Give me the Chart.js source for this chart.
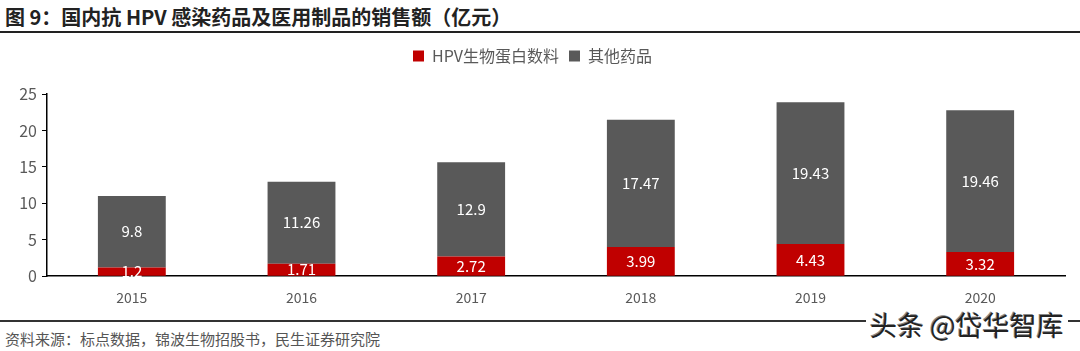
<!DOCTYPE html>
<html>
<head>
<meta charset="utf-8">
<script src="https://cdn.jsdelivr.net/npm/chart.js"></script>
<style>
  body { margin: 0; width: 1080px; height: 351px; background: #fff; overflow: hidden; position: relative; font-family: "Noto Sans CJK SC", sans-serif; }
  #title { position: absolute; left: 5px; top: 2px; font-size: 20px; font-weight: bold; color: #222; white-space: nowrap; }
  #topline { position: absolute; left: 0; top: 31px; width: 1080px; height: 2px; background: #222; }
  #botline { position: absolute; left: 0; top: 320px; width: 1080px; height: 2px; background: #333; }
  #source { position: absolute; left: 5px; top: 328px; font-size: 15px; color: #555; white-space: nowrap; }
  #mark { position: absolute; left: 866px; top: 305px; font-size: 27px; color: #222; background: #fff; padding: 0 4px; white-space: nowrap; text-shadow: 1px 1px 0 #fff, -1px -1px 0 #888; }
  #wrap { position: absolute; left: 0; top: 38px; width: 1080px; height: 273px; }
</style>
</head>
<body>
<div id="title">图 9：国内抗 HPV 感染药品及医用制品的销售额（亿元）</div>
<div id="topline"></div>
<div id="wrap"><canvas id="sales"></canvas></div>
<div id="botline"></div>
<div id="source">资料来源：标点数据，锦波生物招股书，民生证券研究院</div>
<div id="mark">头条 @岱华智库</div>
<script>
const years = ["2015", "2016", "2017", "2018", "2019", "2020"];
const hpvProtein = [1.2, 1.71, 2.72, 3.99, 4.43, 3.32];
const otherDrugs = [9.8, 11.26, 12.9, 17.47, 19.43, 19.46];

// extra room under the legend
const legendGap = {
  id: "legendGap",
  beforeInit(chart) {
    const fit = chart.legend.fit;
    chart.legend.fit = function () {
      fit.bind(chart.legend)();
      this.height += 20;
    };
  },
};

const barLabels = {
  id: "barLabels",
  afterDatasetsDraw(chart) {
    const ctx = chart.ctx;
    ctx.save();
    ctx.fillStyle = "#fff";
    ctx.font = "15px 'Noto Sans CJK SC', sans-serif";
    ctx.textAlign = "center";
    ctx.textBaseline = "middle";
    chart.data.datasets.forEach((ds, i) => {
      chart.getDatasetMeta(i).data.forEach((bar, j) => {
        const mid = (bar.y + bar.base) / 2;
        ctx.fillText(String(ds.data[j]), bar.x, mid);
      });
    });
    ctx.restore();
  },
};

const sales = document.getElementById("sales");
const salesChart = new Chart(sales, {
  type: "bar",
  data: {
    labels: years,
    datasets: [
      {
        label: "HPV生物蛋白数料",
        backgroundColor: "#C00000",
        data: hpvProtein,
        categoryPercentage: 0.8,
        barPercentage: 0.5,
      },
      {
        label: "其他药品",
        backgroundColor: "#595959",
        data: otherDrugs,
        categoryPercentage: 0.8,
        barPercentage: 0.5,
      },
    ],
  },
  options: {
    responsive: true,
    maintainAspectRatio: false,
    animation: false,
    layout: { padding: { left: 0, right: 15, top: 0, bottom: 0 } },
    plugins: {
      legend: {
        display: true,
        position: "top",
        labels: {
          boxWidth: 11,
          boxHeight: 11,
          padding: 10,
          color: "#595959",
          font: { size: 16, family: "'Noto Sans CJK SC', sans-serif" },
        },
      },
      tooltip: { enabled: false },
    },
    scales: {
      x: {
        stacked: true,
        grid: { display: false },
        border: { display: true, color: "#000", width: 1.5 },
        ticks: { color: "#595959", padding: 5, font: { size: 14, family: "'Noto Sans CJK SC', sans-serif" } },
      },
      y: {
        stacked: true,
        min: 0,
        max: 25,
        afterFit(scale) { scale.width = 47; },
        grid: { display: true, drawOnChartArea: false, drawTicks: true, tickLength: 5, color: "#000" },
        border: { display: true, color: "#000", width: 1.5 },
        ticks: { stepSize: 5, color: "#595959", padding: 5, font: { size: 16, family: "'Noto Sans CJK SC', sans-serif" } },
      },
    },
  },
  plugins: [legendGap, barLabels],
});
</script>
</body>
</html>
